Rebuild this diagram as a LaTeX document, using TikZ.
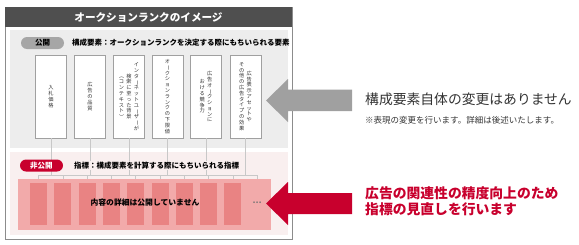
\documentclass[tikz,border=0pt]{standalone}
\usepackage{fontspec}
\newfontfamily\jp{Noto Sans CJK JP}

\definecolor{titlegray}{HTML}{4F4F4F}
\definecolor{framegray}{HTML}{8C8C8C}
\definecolor{panelgray}{HTML}{EDEDED}
\definecolor{pillgray}{HTML}{A6A6A6}
\definecolor{boxgray}{HTML}{A0A0A0}
\definecolor{linegray}{HTML}{C8C8C8}
\definecolor{panelpink}{HTML}{F9EFEF}
\definecolor{bandred}{HTML}{F2AAAA}
\definecolor{barred}{HTML}{E98383}
\definecolor{crimson}{HTML}{C8002D}
\definecolor{arrowgray}{HTML}{A0A0A0}
\definecolor{darktext}{HTML}{333333}

% vertical (tategaki) columns
\makeatletter
\newlength\tatepitch
\setlength\tatepitch{5.8pt}
\newcommand\tatecol[1]{\vbox{\baselineskip=\tatepitch\lineskiplimit=-\maxdimen\tate@loop#1\relax}}
\newcommand\tate@loop[1]{\ifx#1\relax\else\tate@char{#1}\expandafter\tate@loop\fi}
\newcommand\tate@char[1]{\hbox to 1em{\hss\ifx#1ー\tate@rot{#1}\else\ifx#1（\tate@rot{#1}\else\ifx#1）\tate@rot{#1}\else#1\fi\fi\fi\hss}}
\newcommand\tate@rot[1]{\rotatebox[origin=c]{-90}{#1}}
\newcommand\tcol[1]{$\vcenter{\tatecol{#1}}$}
\makeatother

\tikzset{
  elembox/.style={draw=boxgray, fill=white, line width=0.6pt, minimum width=31pt, minimum height=83pt,
    inner sep=0pt, font=\jp\fontsize{5.2}{5.8}\selectfont, text=darktext},
  idxbar/.style={fill=barred, minimum width=17pt, minimum height=42pt, inner sep=0pt},
  pill/.style={rounded corners=6pt, minimum width=43pt, minimum height=12pt, inner sep=0pt,
    font=\jp\bfseries\fontsize{7.5}{9}\selectfont},
  heading/.style={inner sep=0pt, font=\jp\bfseries\fontsize{7.5}{9}\selectfont, text=black},
  link/.style={draw=linegray, line width=0.6pt},
}

\begin{document}
\begin{tikzpicture}[x=1pt, y=-1pt]
  \useasboundingbox (0,0) rectangle (579,244);
  % frame and title
  \draw[framegray, line width=1pt, fill=white] (5,7) rectangle (292,239);
  \fill[titlegray] (5,7) rectangle (292,27);
  \node[font=\jp\bfseries\fontsize{10.6}{12}\selectfont, text=white] (title) at (148.5,17) {オークションランクのイメージ};
  % panels
  \fill[panelgray] (10,30) rectangle (288,148);
  \fill[panelpink] (10,152) rectangle (288,235);
  % public part
  \node[pill, fill=pillgray, text=black] (pub) at (42.5,43) {公開};
  \node[heading, anchor=west] (pubhead) at (72,43) {構成要素：オークションランクを決定する際にもちいられる要素};
  \node[elembox] (elem1) at (51,96.5) {\tcol{入札価格}};
  \node[elembox] (elem2) at (90,96.5) {\tcol{広告の品質}};
  \node[elembox] (elem3) at (129,96.5) {\tcol{（コンテキスト）}\kern2.3pt\tcol{検索に至った背景}\kern2.3pt\tcol{インターネットユーザーが}};
  \node[elembox] (elem4) at (167.5,96.5) {\tcol{オークションランクの下限値}};
  \node[elembox] (elem5) at (206,96.5) {\tcol{おける競争力}\kern2.3pt\tcol{広告オークションに}};
  \node[elembox] (elem6) at (245.5,96.5) {\tcol{その他の広告タイプの効果}\kern2.3pt\tcol{広告表示アセットや}};
  % private part
  \node[fill=bandred, minimum width=253pt, minimum height=51pt, inner sep=0pt] (band) at (144.5,204.5) {};
  \foreach \i in {1,...,9}
    \node[idxbar] (idx\i) at ({38.5+24.3*(\i-1)},204) {};
  \node[font=\jp\bfseries\fontsize{8}{9}\selectfont, text=gray!90!black, inner sep=0pt] (dots) at (257.2,203) {…};
  \node[heading, font=\jp\bfseries\fontsize{7.8}{9}\selectfont] (hidden) at (145,203) {内容の詳細は公開していません};
  % connectors
  \coordinate (busL) at (38.5,175);
  \coordinate (busR) at (257.2,175);
  \draw[link] (busL) -- (busR);
  \foreach \i in {1,...,6}
    \draw[link] (elem\i.south) -- (elem\i.south |- busL);
  \foreach \i in {1,...,9}
    \draw[link] (idx\i.north |- busL) -- (idx\i.north |- band.north);
  \draw[link] (dots |- busL) -- (dots |- band.north);
  \node[pill, fill=crimson, text=white] (priv) at (41.5,165.5) {非公開};
  \node[heading, anchor=west, fill=panelpink, inner sep=1pt] (privhead) at (73,165.5) {指標：構成要素を計算する際にもちいられる指標};
  % arrows
  \fill[arrowgray] (266,100.5) -- (288,79) -- (288,89.5) -- (352,89.5) -- (352,111) -- (288,111) -- (288,122) -- cycle;
  \fill[crimson] (266,203.5) -- (288,182) -- (288,193) -- (352,193) -- (352,214) -- (288,214) -- (288,225) -- cycle;
  % notes
  \node[anchor=west, inner sep=0pt, font=\jp\fontsize{13.8}{16}\selectfont, text=darktext] (nochange) at (365,99.5) {構成要素自体の変更はありません};
  \node[anchor=west, inner sep=0pt, font=\jp\fontsize{8.5}{10}\selectfont, text=darktext] (note) at (365,120.5) {※表現の変更を行います。詳細は後述いたします。};
  \node[anchor=west, inner sep=0pt, align=left, font=\jp\bfseries\fontsize{13.8}{16}\selectfont, text=crimson] (review) at (365,201.5) {広告の関連性の精度向上のため\\指標の見直しを行います};
\end{tikzpicture}
\end{document}
